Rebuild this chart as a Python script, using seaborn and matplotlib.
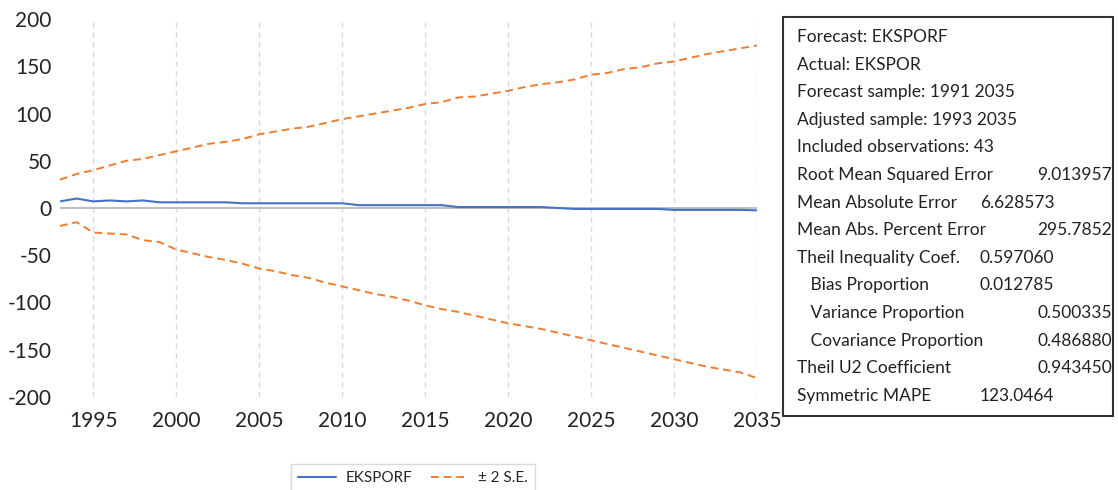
import matplotlib as mpl
import matplotlib.pyplot as plt
import numpy as np
import pandas as pd
import seaborn as sns

mpl.use('Agg')

# data
years = list(range(1993, 2036))
forecast = [7, 10, 7, 8, 7, 8, 6, 6, 6, 6, 6, 5, 5, 5, 5, 5, 5, 5, 3, 3,
            3, 3, 3, 3, 1, 1, 1, 1, 1, 1, 0, -1, -1, -1, -1, -1, -1, -2, -2, -2,
            -2, -2, -2.5]
upper = [30, 36, 40, 45, 50, 52, 56, 60, 64, 68, 70, 73, 78, 81, 84, 86, 90, 94, 97, 100,
         103, 106, 110, 112, 117, 118, 121, 124, 128, 131, 133, 136, 141, 143, 147, 149, 153, 155, 159, 163,
         166, 169, 172]
lower = [-19, -15, -26, -27, -28, -34, -36, -44, -48, -52, -55, -59, -64, -67, -71, -74, -79, -83, -87, -91,
         -94, -98, -103, -107, -110, -114, -118, -122, -125, -128, -132, -136, -140, -144, -148, -152, -156, -160, -164, -168,
         -171, -174, -180]

stat_labels = ['Forecast: EKSPORF', 'Actual: EKSPOR', 'Forecast sample: 1991 2035',
               'Adjusted sample: 1993 2035', 'Included observations: 43',
               'Root Mean Squared Error', 'Mean Absolute Error', 'Mean Abs. Percent Error',
               'Theil Inequality Coef.', '   Bias Proportion', '   Variance Proportion',
               '   Covariance Proportion', 'Theil U2 Coefficient', 'Symmetric MAPE']
stat_values = ['', '', '', '', '', '9.013957', '6.628573', '295.7852', '0.597060',
               '0.012785', '0.500335', '0.486880', '0.943450', '123.0464']
# which column the value sits in (0 = near, 1 = far right)
stat_cols = [0, 0, 0, 0, 0, 1, 0, 1, 0, 0, 1, 1, 1, 0]

df = pd.DataFrame({'year': years, 'forecast': forecast, 'upper': upper, 'lower': lower})

sns.set_theme(style='white')
plt.rcParams['font.family'] = ['Lato', 'DejaVu Sans']
plt.rcParams['axes.unicode_minus'] = False

blue = '#4472C4'
orange = '#ED7D31'

W, H = 1118, 490
fig = plt.figure(figsize=(W / 100, H / 100), dpi=100)
ax = fig.add_axes([60 / W, 1 - 397 / H, 697 / W, 378 / H])

# gridlines and zero line
for yr in range(1995, 2036, 5):
    ax.axvline(yr, color='#d9d9d9', lw=1, ls=(0, (4, 3)), zorder=0)
ax.axhline(0, color='#bfbfbf', lw=1.5, zorder=1)

sns.lineplot(data=df, x='year', y='forecast', ax=ax, color=blue, lw=1.5, label='EKSPORF')
sns.lineplot(data=df, x='year', y='upper', ax=ax, color=orange, lw=1.4,
             ls=(0, (4, 2.5)), label='± 2 S.E.')
sns.lineplot(data=df, x='year', y='lower', ax=ax, color=orange, lw=1.4,
             ls=(0, (4, 2.5)), label='_nolegend_')

ax.set_xlim(1993, 2035)
ax.set_ylim(-200, 200)
ax.set_xticks(range(1995, 2036, 5))
ax.set_yticks(range(-200, 201, 50))
ax.set_xlabel('')
ax.set_ylabel('')
for s in ax.spines.values():
    s.set_visible(False)
ax.tick_params(axis='both', length=0, labelsize=15, colors='#222222')
ax.tick_params(axis='y', pad=6)
ax.tick_params(axis='x', pad=10)

handles, labels = ax.get_legend_handles_labels()
ax.get_legend().remove()
fig.legend(handles, labels, loc='upper left', bbox_to_anchor=(283 / W, 1 - 456 / H),
           ncol=2, frameon=True, fancybox=False, edgecolor='#d0d0d0', fontsize=11,
           handlelength=2.5, handletextpad=0.6, columnspacing=1.2, borderpad=0.5)

# statistics box
box = plt.Rectangle((783 / W, 1 - 416 / H), 330 / W, 399 / H, transform=fig.transFigure,
                    fill=False, edgecolor='#333333', lw=1.5)
fig.add_artist(box)
for i, (lab, val, col) in enumerate(zip(stat_labels, stat_values, stat_cols)):
    yy = 1 - (37 + i * 27.6) / H
    fig.text(797 / W, yy, lab, fontsize=12.5, color='#222222', va='center', ha='left')
    if val:
        xx = 980 if col == 0 else 1037
        fig.text(xx / W, yy, val, fontsize=12.5, color='#222222', va='center', ha='left')

fig.savefig('out.png', dpi=100)
